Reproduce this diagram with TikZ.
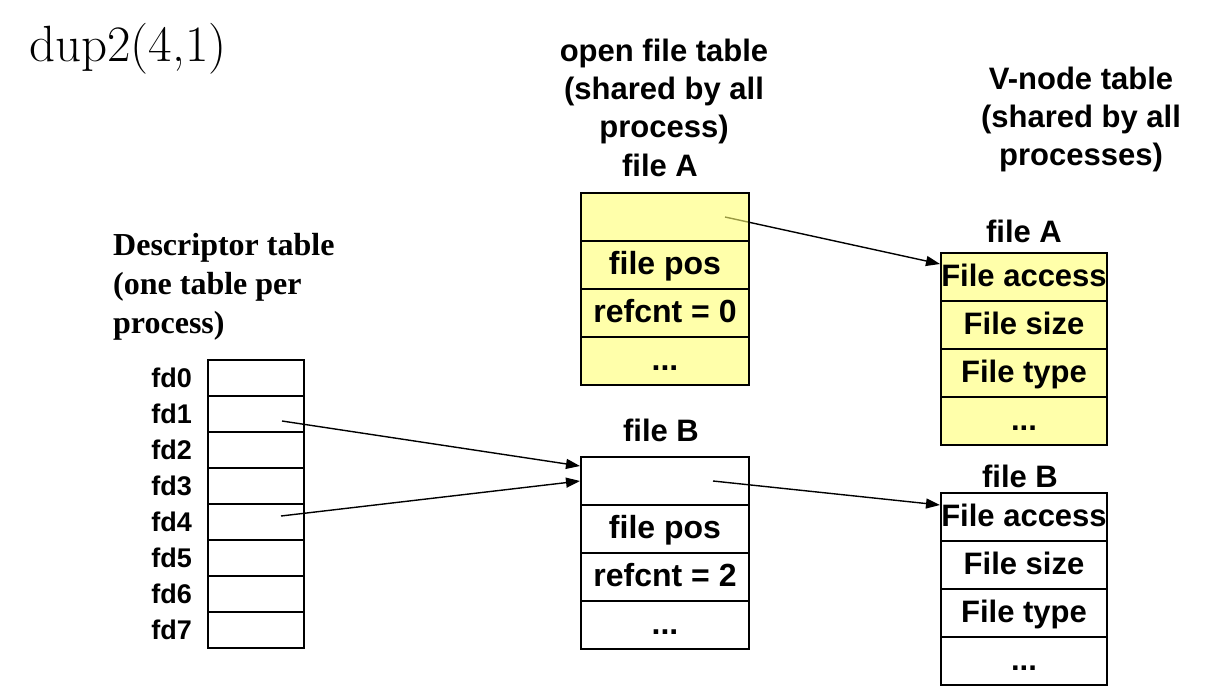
\documentclass[tikz,border=0pt]{standalone}
\usepackage{fontspec}
\newfontfamily\hsans{Liberation Sans}
\newfontfamily\tms{Liberation Serif}
\usetikzlibrary{arrows.meta,positioning,calc}
\pgfdeclarelayer{bg}
\pgfsetlayers{bg,main}
\definecolor{paleyellow}{RGB}{255,255,113}
\begin{document}
\begin{tikzpicture}[x=1pt,y=-1pt,
  cell/.style={draw, line width=2pt, inner sep=0pt, font=\hsans\bfseries\fontsize{32}{38}\selectfont, text height=22pt, text depth=3pt},
  ofcell/.style={cell, minimum width=168pt, minimum height=48pt},
  vcell/.style={cell, minimum width=166pt, minimum height=48pt, font=\hsans\bfseries\fontsize{31}{38}\selectfont},
  ycell/.style={fill=paleyellow, fill opacity=0.6, text opacity=1},
  dcell/.style={draw, line width=2pt, minimum width=96pt, minimum height=36pt, inner sep=0pt},
  fdlab/.style={font=\hsans\bfseries\fontsize{27}{32}\selectfont, inner sep=0pt, text height=19.5pt, text depth=0pt},
  head/.style={font=\hsans\bfseries\fontsize{31}{38}\selectfont, align=center, inner sep=0pt},
  ptr/.style={line width=1.4pt, -{Triangle[length=14pt,width=10pt]}}
]
\useasboundingbox (0,0) rectangle (1216,698);

% title
\node[anchor=base west, inner sep=0pt, font=\fontsize{51}{60}\selectfont] (title) at (29,62) {dup2(4,1)};

% descriptor table
\node[anchor=west, align=left, inner sep=0pt, font=\tms\bfseries\fontsize{32}{39}\selectfont] (dt) at (113,286.5) {Descriptor table\\(one table per\\process)};
\foreach \i in {0,...,7}{
  \node[dcell] (d\i) at (256,{378+36*\i}) {};
  \node[fdlab, left=15pt of d\i] (l\i) {fd\i};
}

% open file table
\node[head] (oft) at (664,91) {open file table\\(shared by all\\process)};
\node[head, anchor=base] (fa) at (660,176) {file A};
\node[ofcell,ycell] (oa1) at (665,217) {};
\node[ofcell,ycell] (oa2) at (665,265) {file pos};
\node[ofcell,ycell] (oa3) at (665,313) {refcnt = 0};
\node[ofcell,ycell] (oa4) at (665,361) {...};

\node[head, anchor=base] (fb) at (661,441) {file B};
\node[ofcell] (ob1) at (665,481) {};
\node[ofcell] (ob2) at (665,529) {file pos};
\node[ofcell] (ob3) at (665,577) {refcnt = 2};
\node[ofcell] (ob4) at (665,625) {...};

% v-node table
\node[head] (vnt) at (1081,119) {V-node table\\(shared by all\\processes)};
\node[head, anchor=base] (vfa) at (1024,242) {file A};
\node[vcell,ycell] (va1) at (1024,277) {File access};
\node[vcell,ycell] (va2) at (1024,325) {File size};
\node[vcell,ycell] (va3) at (1024,373) {File type};
\node[vcell,ycell] (va4) at (1024,421) {...};

\node[head, anchor=base] (vfb) at (1020,487) {file B};
\node[vcell] (vb1) at (1024,517) {File access};
\node[vcell] (vb2) at (1024,565) {File size};
\node[vcell] (vb3) at (1024,613) {File type};
\node[vcell] (vb4) at (1024,661) {...};

% pointer origins
\coordinate (sA) at ($(oa1.center)+(60,0)$);
\coordinate (sB) at ($(ob1.center)+(48,0)$);
\coordinate (s1) at ($(d1.center)+(26,7)$);
\coordinate (s4) at ($(d4.center)+(25,-6)$);

\begin{pgfonlayer}{bg}
\draw[ptr] (sA) -- ([yshift=13pt]va1.west);
\draw[ptr] (sB) -- ([yshift=12pt]vb1.west);
\draw[ptr] (s1) -- ([yshift=15pt]ob1.west);
\draw[ptr] (s4) -- (ob1.west);
\end{pgfonlayer}
\end{tikzpicture}
\end{document}
